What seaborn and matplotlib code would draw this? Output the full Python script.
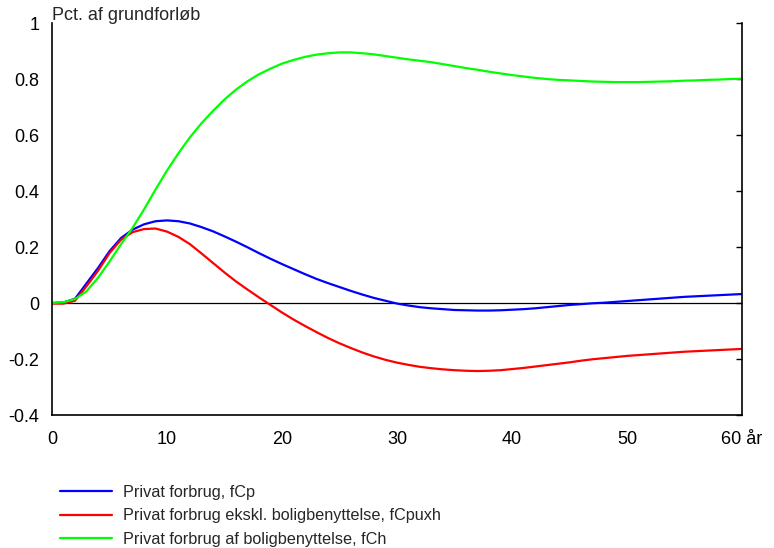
import matplotlib
matplotlib.use("Agg")
import matplotlib.pyplot as plt
import seaborn as sns
import pandas as pd
from matplotlib.ticker import FuncFormatter

years = list(range(0, 61))

fCp = [0.0, 0.002, 0.015, 0.07, 0.125, 0.185, 0.232, 0.262, 0.281, 0.292,
       0.295, 0.292, 0.284, 0.271, 0.256, 0.238, 0.219, 0.199, 0.178, 0.158,
       0.139, 0.121, 0.103, 0.086, 0.071, 0.057, 0.043, 0.030, 0.018, 0.008,
       -0.002, -0.009, -0.015, -0.019, -0.022, -0.025, -0.026, -0.027, -0.027, -0.026,
       -0.024, -0.022, -0.019, -0.015, -0.011, -0.007, -0.004, -0.001, 0.001, 0.004,
       0.007, 0.010, 0.013, 0.016, 0.019, 0.022, 0.024, 0.026, 0.028, 0.030,
       0.032]

fCpuxh = [-0.002, -0.002, 0.008, 0.06, 0.115, 0.178, 0.226, 0.253, 0.264, 0.266,
          0.255, 0.236, 0.210, 0.177, 0.143, 0.109, 0.077, 0.048, 0.020, -0.007,
          -0.034, -0.059, -0.082, -0.104, -0.125, -0.144, -0.161, -0.177, -0.191, -0.203,
          -0.213, -0.221, -0.228, -0.233, -0.237, -0.240, -0.242, -0.243, -0.242, -0.240,
          -0.236, -0.232, -0.227, -0.222, -0.217, -0.212, -0.206, -0.201, -0.197, -0.193,
          -0.189, -0.186, -0.183, -0.180, -0.177, -0.174, -0.172, -0.170, -0.168, -0.166,
          -0.164]

fCh = [0.0, 0.003, 0.014, 0.042, 0.09, 0.148, 0.21, 0.268, 0.334, 0.405,
       0.473, 0.535, 0.592, 0.642, 0.686, 0.727, 0.762, 0.792, 0.817, 0.837,
       0.855, 0.868, 0.879, 0.887, 0.892, 0.895, 0.895, 0.892, 0.888, 0.882,
       0.876, 0.870, 0.865, 0.860, 0.853, 0.846, 0.839, 0.833, 0.826, 0.820,
       0.814, 0.809, 0.804, 0.800, 0.797, 0.795, 0.793, 0.791, 0.790, 0.789,
       0.789, 0.789, 0.790, 0.791, 0.792, 0.794, 0.795, 0.797, 0.798, 0.800,
       0.801]

labels = ["Privat forbrug, fCp",
          "Privat forbrug ekskl. boligbenyttelse, fCpuxh",
          "Privat forbrug af boligbenyttelse, fCh"]
colors = ["#0000ff", "#ff0000", "#00ff00"]

x_ticks = [0, 10, 20, 30, 40, 50, 60]
x_ticklabels = ["0", "10", "20", "30", "40", "50", "60 år"]
y_ticks = [-0.4, -0.2, 0, 0.2, 0.4, 0.6, 0.8, 1]

df = pd.concat([
    pd.DataFrame({"år": years, "værdi": vals, "serie": lab})
    for vals, lab in zip([fCp, fCpuxh, fCh], labels)
])

sns.set_style("white")
plt.rcParams["font.family"] = ["Liberation Sans", "DejaVu Sans"]
plt.rcParams["axes.unicode_minus"] = False

fig = plt.figure(figsize=(7.74, 5.48), dpi=100)
ax = fig.add_axes([52/774, 1 - 415/548, (742-52)/774, (415-23)/548])

ax.axhline(0, color="black", lw=0.9, zorder=1)
sns.lineplot(data=df, x="år", y="værdi", hue="serie", palette=dict(zip(labels, colors)),
             hue_order=labels, lw=1.6, ax=ax, legend=True)

ax.set_xlim(0, 60)
ax.set_ylim(-0.4, 1)
ax.set_xticks(x_ticks)
ax.set_xticklabels(x_ticklabels)
ax.set_yticks(y_ticks)
ax.yaxis.set_major_formatter(FuncFormatter(lambda v, p: "%g" % round(v, 2)))
ax.set_xlabel("")
ax.set_ylabel("")

for s in ["left", "bottom", "right"]:
    ax.spines[s].set_visible(True)
    ax.spines[s].set_color("black")
    ax.spines[s].set_linewidth(1.2)
ax.spines["top"].set_visible(False)

ax.tick_params(axis="both", direction="in", length=4, width=1, colors="black",
               labelsize=13, labelcolor="black")
ax.tick_params(axis="y", right=True, labelright=False, pad=9)
ax.tick_params(axis="x", top=False, pad=11.5)

fig.text(52/774, 1 - 19.5/548, "Pct. af grundforløb", fontsize=13, ha="left", va="baseline")

handles, labs = ax.get_legend_handles_labels()
ax.get_legend().remove()
fig.legend(handles, labs, loc="upper left", bbox_to_anchor=(60/774, 1 - 485/548),
           frameon=False, fontsize=11.7, handlelength=3.2, handletextpad=0.7,
           labelspacing=0.52, borderpad=0, borderaxespad=0)

fig.savefig("out.png", dpi=100)
